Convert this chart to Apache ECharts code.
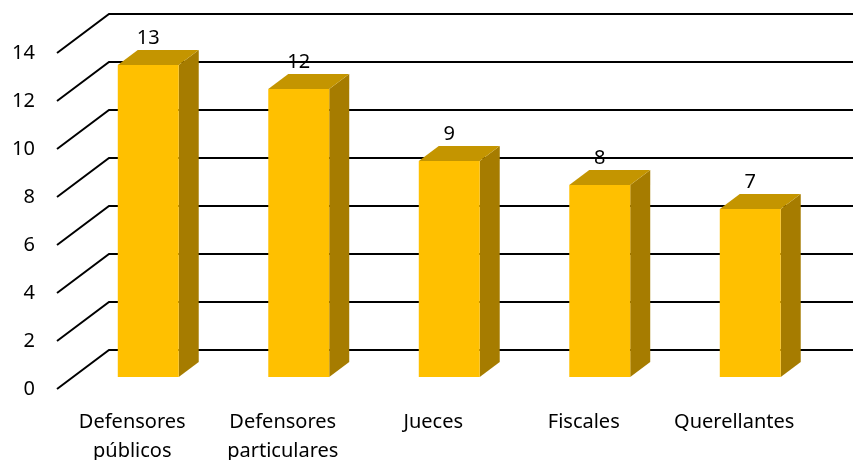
<!DOCTYPE html>
<html><head><meta charset="utf-8">
<script src="https://cdn.jsdelivr.net/npm/echarts@6/dist/echarts.min.js"></script>
<style>html,body{margin:0;padding:0;background:#fff}#c{width:853px;height:460px}</style>
</head><body><div id="c"></div>
<script>
const categories = ['Defensores\npúblicos', 'Defensores\nparticulares', 'Jueces', 'Fiscales', 'Querellantes'];
const values = [13, 12, 9, 8, 7];
const yTicks = [0, 2, 4, 6, 8, 10, 12, 14];

const FONT = '"Noto Sans", "Open Sans", sans-serif';
const DEPTH = [52, -39];      // full floor depth (front to back wall)
const BAR_OFF = [16, -12];    // bar front face offset from front plane
const BAR_D = [20, -15];      // bar depth

const chart = echarts.init(document.getElementById('c'));
chart.setOption({
  animation: false,
  grid: { left: 57, right: 43.5, top: 53, bottom: 71, outerBoundsMode: 'none', containLabel: false },
  xAxis: {
    type: 'category', data: categories,
    axisLine: { show: false }, axisTick: { show: false },
    axisLabel: { fontFamily: FONT, fontSize: 20, color: '#000', margin: 19, lineHeight: 29, interval: 0 }
  },
  yAxis: {
    type: 'value', min: 0, max: 14, interval: 2,
    splitLine: { show: false }, axisLine: { show: false }, axisTick: { show: false },
    axisLabel: { fontFamily: FONT, fontSize: 20, color: '#000', margin: 22 }
  },
  series: [
    {
      type: 'custom', z: 1, silent: true,
      data: yTicks.map(v => [0, v]),
      renderItem: function (params, api) {
        const cs = params.coordSys;
        const y = api.coord([0, api.value(1)])[1];
        const x0 = cs.x;
        return {
          type: 'polyline',
          shape: { points: [[x0, y], [x0 + DEPTH[0], y + DEPTH[1]], [cs.x + cs.width + DEPTH[0] + 20, y + DEPTH[1]]] },
          style: { stroke: '#000', lineWidth: 2, fill: null }
        };
      }
    },
    {
      type: 'custom', z: 2, silent: true,
      data: values.map((v, i) => [i, v]),
      renderItem: function (params, api) {
        const top = api.coord([api.value(0), api.value(1)]);
        const base = api.coord([api.value(0), 0]);
        const w = api.size([1, 0])[0] * 0.405;
        const cx = top[0] + BAR_OFF[0];
        const yt = top[1] + BAR_OFF[1];
        const yb = base[1] + BAR_OFF[1];
        const xl = cx - w / 2, xr = cx + w / 2;
        const dx = BAR_D[0], dy = BAR_D[1];
        return {
          type: 'group',
          children: [
            { type: 'polygon', shape: { points: [[xr, yt], [xr + dx, yt + dy], [xr + dx, yb + dy], [xr, yb]] }, style: { fill: '#A67C00' } },
            { type: 'polygon', shape: { points: [[xl, yt], [xl + dx, yt + dy], [xr + dx, yt + dy], [xr, yt]] }, style: { fill: '#C49500' } },
            { type: 'rect', shape: { x: xl, y: yt, width: w, height: yb - yt }, style: { fill: '#FFC000' } },
            { type: 'text', x: cx + dx / 2 - 10, y: yt + dy - 2, style: { text: String(api.value(1)), fill: '#000', font: '20px ' + FONT, align: 'center', verticalAlign: 'bottom' } }
          ]
        };
      }
    }
  ]
});
</script></body></html>
